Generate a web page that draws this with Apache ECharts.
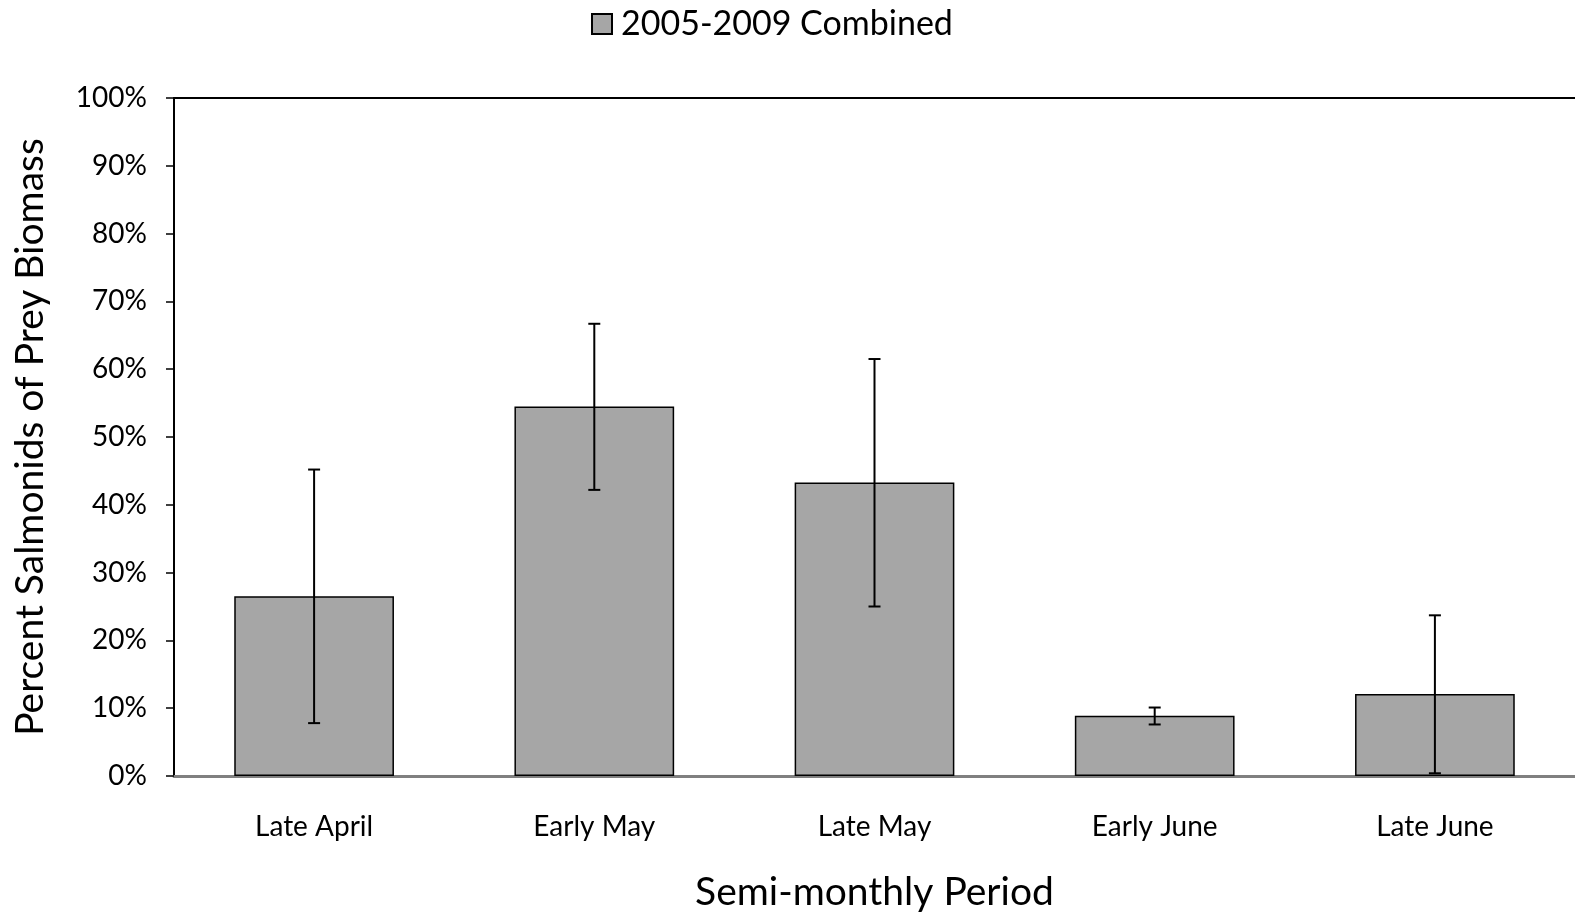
<!DOCTYPE html>
<html>
<head>
<meta charset="utf-8">
<script src="https://cdn.jsdelivr.net/npm/echarts@6/dist/echarts.min.js"></script>
<style>html,body{margin:0;padding:0;background:#fff}#c{width:1575px;height:915px}</style>
</head>
<body>
<div id="c"></div>
<script>
const categories = ['Late April', 'Early May', 'Late May', 'Early June', 'Late June'];
const values = [26.5, 54.5, 43.3, 8.9, 12.1];
const errLow = [7.8, 42.2, 25.0, 7.6, 0.4];
const errHigh = [45.2, 66.7, 61.5, 10.1, 23.7];
const yTicks = [0, 10, 20, 30, 40, 50, 60, 70, 80, 90, 100];
const seriesName = '2005-2009 Combined';

const font = 'Lato, "Open Sans", sans-serif';
const chart = echarts.init(document.getElementById('c'));
const errData = categories.map((c, i) => [i, errLow[i], errHigh[i]]);
chart.setOption({
  animation: false,
  legend: {
    top: 2, left: 586,
    data: [{name: seriesName, icon: 'rect'}],
    itemWidth: 20, itemHeight: 20, itemGap: 8,
    textStyle: {fontFamily: font, fontSize: 34, color: '#000', padding: [0, 0, 0, 4]}
  },
  grid: {left: 174, right: 0, top: 98, bottom: 139, outerBoundsMode: 'none', containLabel: false},
  xAxis: [{
    type: 'category', data: categories,
    axisLine: {lineStyle: {color: '#808080', width: 3}},
    axisTick: {show: false},
    axisLabel: {fontFamily: font, fontSize: 28, color: '#000', margin: 37},
    name: 'Semi-monthly Period', nameLocation: 'middle', nameGap: 97,
    nameTextStyle: {fontFamily: font, fontSize: 39, color: '#000'}
  }, {
    type: 'category', data: categories, position: 'top',
    axisLine: {show: true, lineStyle: {color: '#000', width: 2}},
    axisTick: {show: false}, axisLabel: {show: false}
  }],
  yAxis: {
    type: 'value', min: 0, max: 100, interval: 10,
    axisLine: {show: true, lineStyle: {color: '#000', width: 2}},
    axisTick: {show: true, inside: false, length: 8, lineStyle: {color: '#000', width: 1.5}},
    splitLine: {show: false},
    axisLabel: {fontFamily: font, fontSize: 28, color: '#000', margin: 27,
      formatter: v => yTicks.indexOf(v) >= 0 ? v + '%' : ''},
    name: 'Percent Salmonids of Prey Biomass', nameLocation: 'middle', nameGap: 124,
    nameTextStyle: {fontFamily: font, fontSize: 39, color: '#000'}
  },
  series: [{
    name: seriesName, type: 'bar', data: values, barWidth: '57%',
    itemStyle: {color: '#a6a6a6', borderColor: '#000', borderWidth: 1.5}
  }, {
    type: 'custom', data: errData, z: 10,
    renderItem: (params, api) => {
      const x = api.value(0);
      const lo = api.coord([x, api.value(1)]);
      const hi = api.coord([x, api.value(2)]);
      const hw = 6;
      const st = {stroke: '#000', lineWidth: 2};
      return {type: 'group', children: [
        {type: 'line', shape: {x1: lo[0], y1: lo[1], x2: hi[0], y2: hi[1]}, style: st},
        {type: 'line', shape: {x1: lo[0]-hw, y1: lo[1], x2: lo[0]+hw, y2: lo[1]}, style: st},
        {type: 'line', shape: {x1: hi[0]-hw, y1: hi[1], x2: hi[0]+hw, y2: hi[1]}, style: st}
      ]};
    }
  }]
});
</script>
</body>
</html>
